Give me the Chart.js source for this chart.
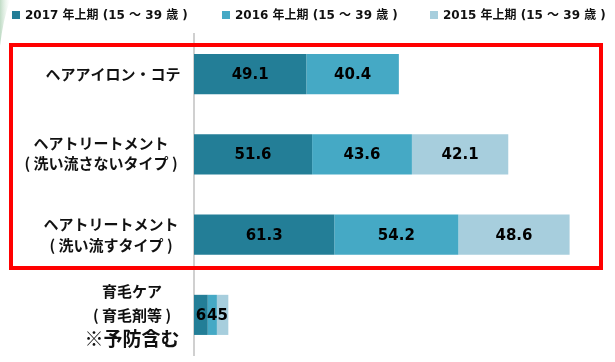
<!DOCTYPE html>
<html><head><meta charset="utf-8">
<script src="https://cdn.jsdelivr.net/npm/chart.js@4/dist/chart.umd.min.js"></script>
<style>
html,body{margin:0;padding:0;background:#fff;}
#wrap{position:relative;width:615px;height:362px;}
</style></head><body>
<div id="wrap"><canvas id="c" width="615" height="362"></canvas></div>
<script>
const categories = [
  ['ヘアアイロン・コテ'],
  ['ヘアトリートメント', '( 洗い流さないタイプ )'],
  ['ヘアトリートメント', '( 洗い流すタイプ )'],
  ['育毛ケア', '( 育毛剤等 )', '※予防含む']
];
const seriesNames = ['2017 年上期 (15 ～ 39 歳 )', '2016 年上期 (15 ～ 39 歳 )', '2015 年上期 (15 ～ 39 歳 )'];
const values2017 = [49.1, 51.6, 61.3, 6];
const values2016 = [40.4, 43.6, 54.2, 4];
const values2015 = [null, 42.1, 48.6, 5];
const seriesColors = ['#237E97', '#45A9C5', '#A7CEDD'];
const xMax = 180;

const decorPlugin = {
  id: 'decor',
  beforeDraw(chart) {
    const ctx = chart.ctx;
    ctx.save();
    const g = ctx.createLinearGradient(0, 0, 10, 0);
    g.addColorStop(0, 'rgba(140,190,150,0.55)');
    g.addColorStop(1, 'rgba(200,225,205,0)');
    ctx.fillStyle = g;
    ctx.beginPath();
    ctx.moveTo(0, 0); ctx.lineTo(10, 0);
    ctx.quadraticCurveTo(3, 20, 0, 46);
    ctx.closePath(); ctx.fill();
    ctx.restore();
  }
};

const legendPlugin = {
  id: 'customLegend',
  afterDraw(chart) {
    const ctx = chart.ctx;
    const xs = [12, 222, 430];
    ctx.save();
    ctx.textBaseline = 'middle';
    ctx.textAlign = 'left';
    ctx.font = "bold 12px 'DejaVu Sans', 'Noto Sans CJK JP', sans-serif";
    chart.data.datasets.forEach((ds, i) => {
      ctx.fillStyle = ds.backgroundColor;
      ctx.fillRect(xs[i], 11, 8, 8);
      ctx.fillStyle = '#111';
      ctx.fillText(ds.label, xs[i] + 13, 15.5);
    });
    ctx.restore();
  }
};

const valueLabelPlugin = {
  id: 'valueLabels',
  afterDatasetsDraw(chart) {
    const ctx = chart.ctx;
    ctx.save();
    ctx.font = "bold 15px 'DejaVu Sans', sans-serif";
    ctx.fillStyle = '#000';
    ctx.textAlign = 'center';
    ctx.textBaseline = 'middle';
    chart.data.datasets.forEach((ds, di) => {
      const meta = chart.getDatasetMeta(di);
      meta.data.forEach((bar, i) => {
        const v = ds.data[i];
        if (v === null || v === undefined) return;
        const cx = (bar.x + bar.base) / 2;
        ctx.fillText(String(v), cx, bar.y + 1);
      });
    });
    ctx.restore();
  }
};

const categoryLabelPlugin = {
  id: 'categoryLabels',
  afterDraw(chart) {
    const ctx = chart.ctx;
    const yScale = chart.scales.y;
    const centersX = [113, 101, 111, 132];
    const spacing = [20, 20, 21, 24];
    ctx.save();
    ctx.fillStyle = '#111';
    ctx.textAlign = 'center';
    ctx.textBaseline = 'middle';
    categories.forEach((lines, i) => {
      const yc = yScale.getPixelForValue(i);
      const n = lines.length;
      lines.forEach((t, j) => {
        const big = t.startsWith('※');
        ctx.font = big ? "bold 19px 'Noto Sans CJK JP', sans-serif" : "bold 15px 'Noto Sans CJK JP', sans-serif";
        const y = yc + (j - (n - 1) / 2) * spacing[i] - (i === 1 ? 1.5 : 0);
        ctx.fillText(t, centersX[i], y);
      });
    });
    ctx.restore();
  }
};

const framePlugin = {
  id: 'frame',
  afterDraw(chart) {
    const ctx = chart.ctx;
    ctx.save();
    ctx.strokeStyle = '#FF0000';
    ctx.lineWidth = 4;
    ctx.strokeRect(11, 45, 590, 223);
    ctx.restore();
  }
};

new Chart(document.getElementById('c'), {
  type: 'bar',
  data: {
    labels: categories,
    datasets: [
      { label: seriesNames[0], data: values2017, backgroundColor: seriesColors[0] },
      { label: seriesNames[1], data: values2016, backgroundColor: seriesColors[1] },
      { label: seriesNames[2], data: values2015, backgroundColor: seriesColors[2] }
    ]
  },
  options: {
    indexAxis: 'y',
    responsive: false,
    animation: false,
    devicePixelRatio: 1,
    layout: { padding: { top: 34, right: 9, bottom: 7, left: 0 } },
    datasets: { bar: { categoryPercentage: 1, barPercentage: 0.5, borderWidth: 0 } },
    scales: {
      x: { stacked: true, display: false, min: 0, max: xMax },
      y: {
        stacked: true,
        grid: { display: false },
        border: { display: true, color: '#D0D0D0', width: 2 },
        ticks: { display: false },
        afterFit(scale) { scale.width = 194; }
      }
    },
    plugins: { legend: { display: false }, tooltip: { enabled: false } }
  },
  plugins: [decorPlugin, valueLabelPlugin, categoryLabelPlugin, framePlugin, legendPlugin]
});
</script>
</body></html>
